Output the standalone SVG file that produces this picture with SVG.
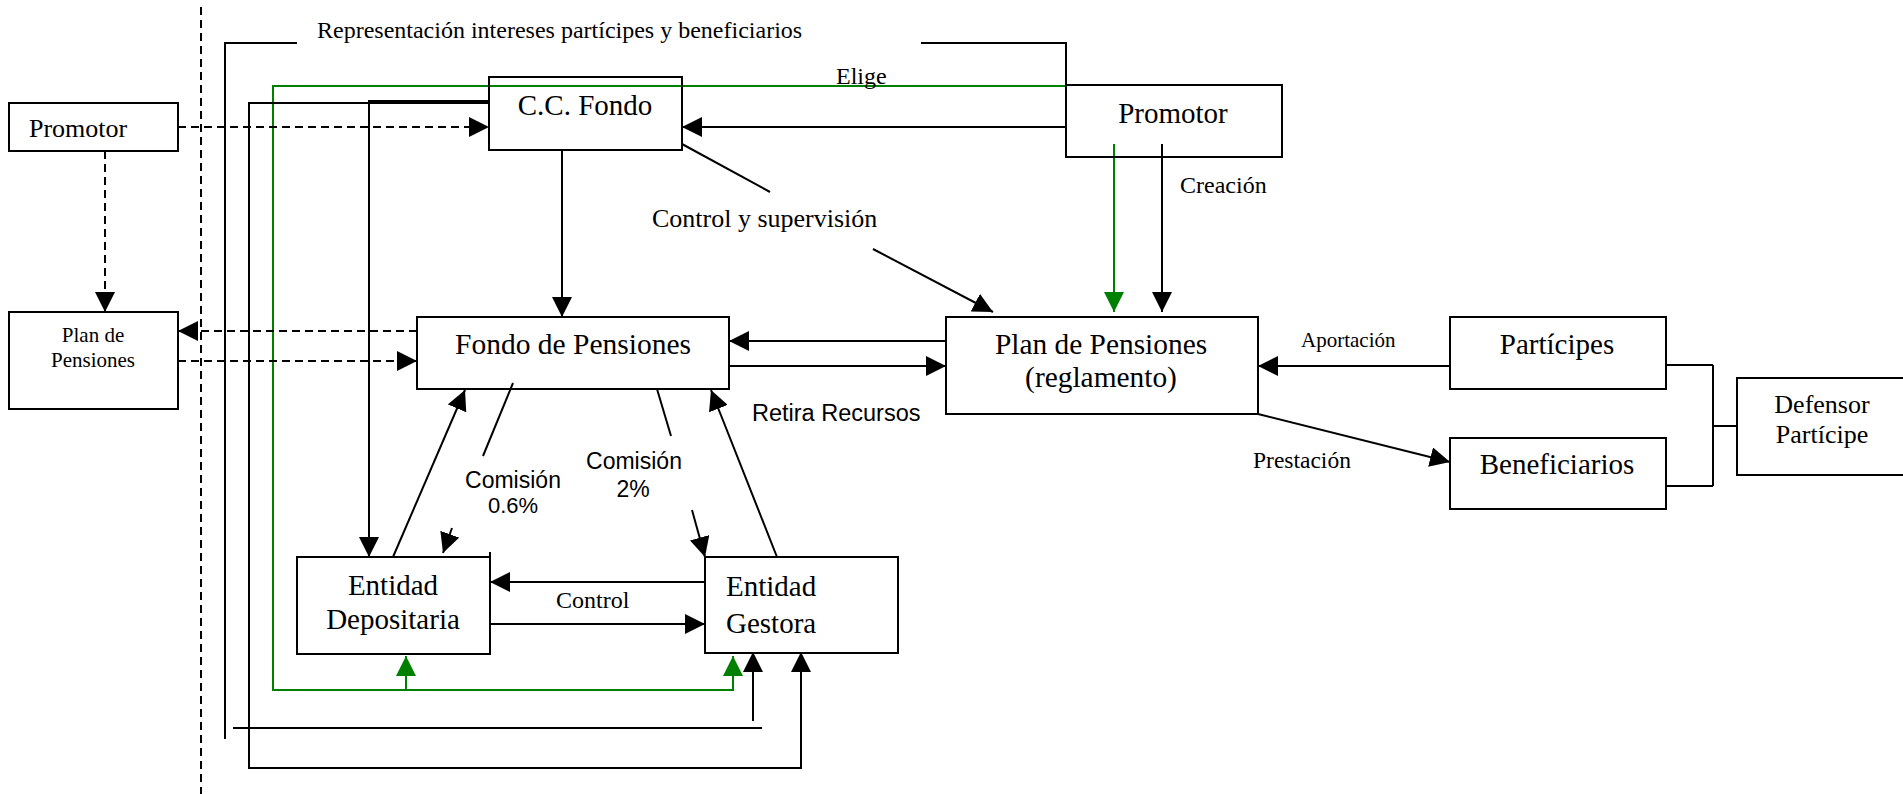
<svg xmlns="http://www.w3.org/2000/svg" width="1903" height="794" viewBox="0 0 1903 794">
<style>
.box{fill:none;stroke:#000;stroke-width:2}
.ln{fill:none;stroke:#000;stroke-width:2}
.gn{fill:none;stroke:#008000;stroke-width:2}
.ds{fill:none;stroke:#000;stroke-width:2;stroke-dasharray:8 5}
.t{font-family:"Liberation Serif","Times New Roman",serif;fill:#000}
.s{font-family:"Liberation Sans",Arial,sans-serif;fill:#000}
.c{text-anchor:middle}
</style>
<defs>
<marker id="ab" markerUnits="userSpaceOnUse" markerWidth="20" markerHeight="20" refX="20" refY="10" orient="auto" viewBox="0 0 20 20"><path d="M0,0 L20,10 L0,20 z" fill="#000"/></marker>
<marker id="ag" markerUnits="userSpaceOnUse" markerWidth="20" markerHeight="20" refX="20" refY="10" orient="auto" viewBox="0 0 20 20"><path d="M0,0 L20,10 L0,20 z" fill="#008000"/></marker>
</defs>
<rect width="1903" height="794" fill="#fff"/>

<g id="connectors">
<path class="ds" d="M201,7 V794" stroke-dasharray="10 5"/>
<path class="ln" d="M297,43 H225 V739"/>
<path class="ln" d="M921,43 H1066 V85"/>
<path class="ln" d="M233,728 H762"/>
<path class="gn" d="M1066,86 H273 V690 H733 V656" marker-end="url(#ag)"/>
<path class="gn" d="M406,690 V656" marker-end="url(#ag)"/>
<path class="gn" d="M1114,144 V312" marker-end="url(#ag)"/>
<path class="ln" d="M489,103 H249 V768 H801 V652" marker-end="url(#ab)"/>
<path class="ln" d="M489,101 H369 V557" marker-end="url(#ab)"/>
<path class="ln" d="M753,721 V652" marker-end="url(#ab)"/>
<path class="ds" d="M178,127 H489" marker-end="url(#ab)"/>
<path class="ds" d="M105,151 V312" marker-end="url(#ab)"/>
<path class="ds" d="M417,331 H178" marker-end="url(#ab)"/>
<path class="ds" d="M178,361 H417" marker-end="url(#ab)"/>
<path class="ln" d="M1066,127 H682" marker-end="url(#ab)"/>
<path class="ln" d="M682,144 L770,192"/>
<path class="ln" d="M873,249 L993,312" marker-end="url(#ab)"/>
<path class="ln" d="M1162,144 V312" marker-end="url(#ab)"/>
<path class="ln" d="M562,150 V317" marker-end="url(#ab)"/>
<path class="ln" d="M946,341 H729" marker-end="url(#ab)"/>
<path class="ln" d="M729,366 H946" marker-end="url(#ab)"/>
<path class="ln" d="M393,557 L465,390" marker-end="url(#ab)"/>
<path class="ln" d="M777,557 L711,390" marker-end="url(#ab)"/>
<path class="ln" d="M513,383 L483,456"/>
<path class="ln" d="M452,528 L443,553" marker-end="url(#ab)"/>
<path class="ln" d="M657,389 L671,436"/>
<path class="ln" d="M692,510 L705,557" marker-end="url(#ab)"/>
<path class="ln" d="M705,582 H490" marker-end="url(#ab)"/>
<path class="ln" d="M490,624 H705" marker-end="url(#ab)"/>
<path class="ln" d="M1450,366 H1258" marker-end="url(#ab)"/>
<path class="ln" d="M1258,414 L1450,462" marker-end="url(#ab)"/>
<path class="ln" d="M1666,365 H1713 M1666,486 H1713 M1713,365 V486 M1713,426 H1737"/>
</g>

<g id="rep-label">
<text class="t" x="317" y="38" font-size="24">Representación intereses partícipes y beneficiarios</text>
</g>
<g id="labels">
<text class="t" x="836" y="84" font-size="24">Elige</text>
<text class="t" x="652" y="227" font-size="26">Control y supervisión</text>
<text class="t" x="1180" y="193" font-size="24">Creación</text>
<text class="s" x="752" y="421" font-size="23.5">Retira Recursos</text>
<text class="s c" x="513" y="488" font-size="23">Comisión</text>
<text class="s c" x="513" y="513" font-size="22">0.6%</text>
<text class="s c" x="634" y="469" font-size="23">Comisión</text>
<text class="s c" x="633" y="497" font-size="23">2%</text>
<text class="t" x="556" y="608" font-size="24">Control</text>
<text class="t" x="1301" y="347" font-size="21">Aportación</text>
<text class="t" x="1253" y="468" font-size="23.5">Prestación</text>
</g>

<g id="promotor-left">
<rect class="box" x="9" y="103" width="169" height="48"/>
<text class="t" x="29" y="137" font-size="26">Promotor</text>
</g>
<g id="cc-fondo">
<rect class="box" x="489" y="77" width="193" height="73"/>
<text class="t c" x="585" y="115" font-size="29">C.C. Fondo</text>
</g>
<g id="promotor-right">
<rect class="box" x="1066" y="85" width="216" height="72"/>
<text class="t c" x="1173" y="123" font-size="29">Promotor</text>
</g>
<g id="plan-left">
<rect class="box" x="9" y="312" width="169" height="97"/>
<text class="t c" x="93" y="342" font-size="21">Plan de</text>
<text class="t c" x="93" y="367" font-size="21">Pensiones</text>
</g>
<g id="fondo">
<rect class="box" x="417" y="317" width="312" height="72"/>
<text class="t c" x="573" y="354" font-size="29.5">Fondo de Pensiones</text>
</g>
<g id="plan-reglamento">
<rect class="box" x="946" y="317" width="312" height="97"/>
<text class="t c" x="1101" y="354" font-size="29.4">Plan de Pensiones</text>
<text class="t c" x="1101" y="387" font-size="29.4">(reglamento)</text>
</g>
<g id="depositaria">
<rect class="box" x="297" y="557" width="193" height="97"/>
<path class="ln" d="M490,552 V557"/>
<text class="t c" x="393" y="595" font-size="29">Entidad</text>
<text class="t c" x="393" y="629" font-size="29">Depositaria</text>
</g>
<g id="gestora">
<rect class="box" x="705" y="557" width="193" height="96"/>
<text class="t" x="726" y="596" font-size="29">Entidad</text>
<text class="t" x="726" y="633" font-size="29">Gestora</text>
</g>
<g id="participes">
<rect class="box" x="1450" y="317" width="216" height="72"/>
<text class="t c" x="1557" y="354" font-size="29">Partícipes</text>
</g>
<g id="beneficiarios">
<rect class="box" x="1450" y="438" width="216" height="71"/>
<text class="t c" x="1557" y="474" font-size="29">Beneficiarios</text>
</g>
<g id="defensor">
<rect class="box" x="1737" y="378" width="190" height="97"/>
<text class="t c" x="1822" y="413" font-size="26">Defensor</text>
<text class="t c" x="1822" y="443" font-size="26">Partícipe</text>
</g>
</svg>
